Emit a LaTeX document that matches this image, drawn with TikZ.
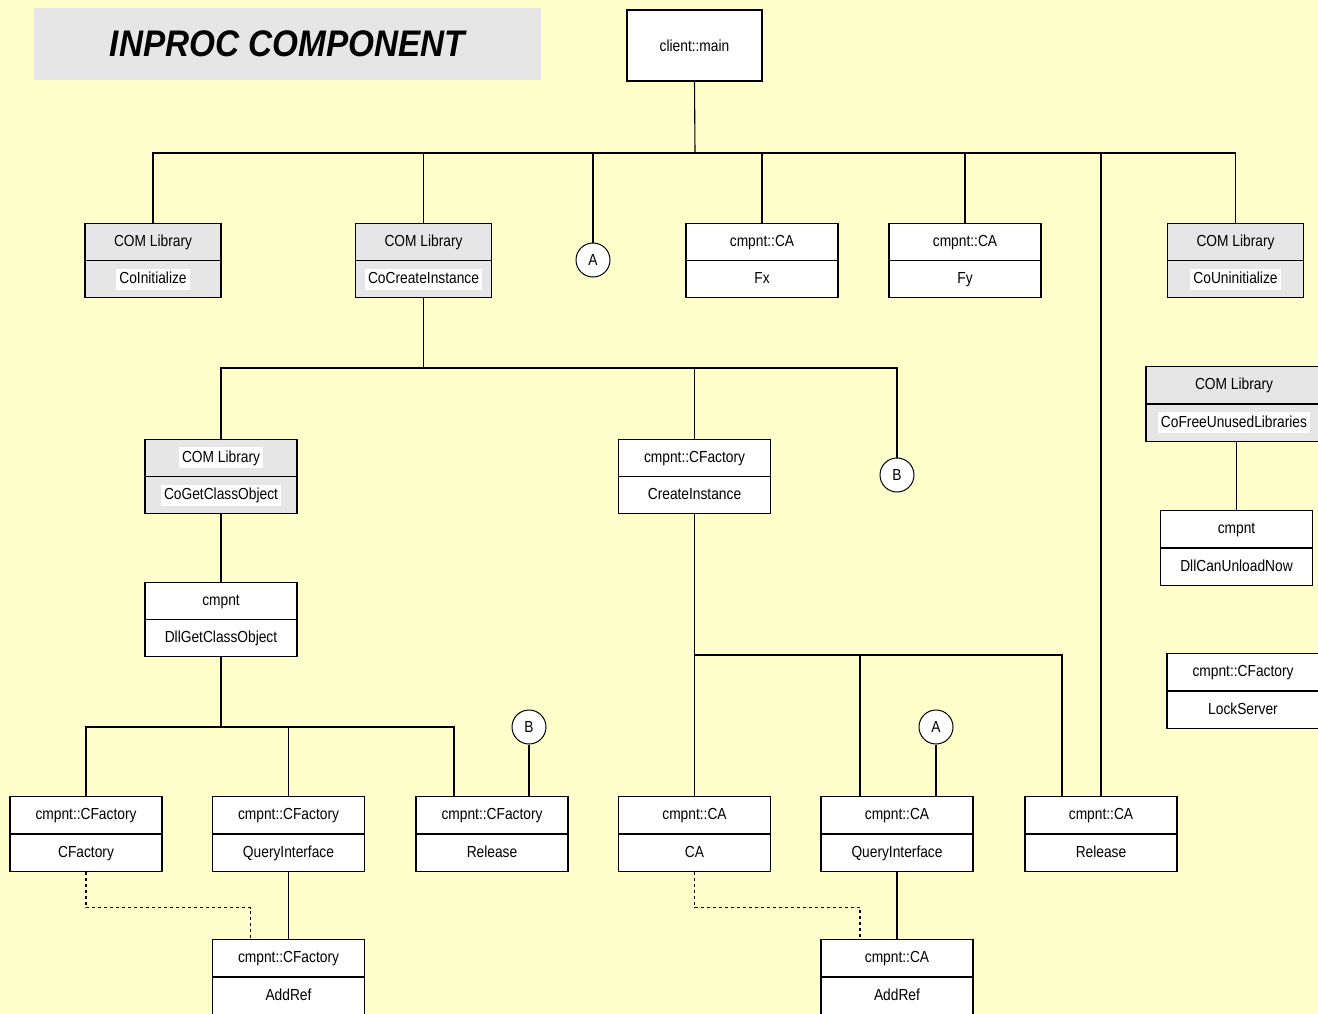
\documentclass[tikz,border=0pt]{standalone}
\usepackage{fontspec}
\setmainfont{Liberation Sans}[FakeStretch=0.86]
\newfontfamily\titlefont{Liberation Sans}[FakeStretch=0.9]
\usepackage{xcolor}
\usetikzlibrary{shapes.multipart}
\definecolor{bgyellow}{RGB}{255,255,204}
\definecolor{boxgray}{RGB}{230,230,230}
\newcommand{\rowstrut}{\rule[-6pt]{0pt}{21pt}}
\newcommand{\hl}[1]{{\setlength{\fboxsep}{3pt}\colorbox{white}{\rule[-3pt]{0pt}{15pt}#1}}}
\tikzset{
  fnbox/.style={rectangle split, rectangle split parts=2, draw, line width=1.1pt,
    fill=white, minimum width=152pt, inner ysep=7.5pt, inner xsep=2pt,
    font=\fontsize{16}{19}\selectfont},
  libbox/.style={fnbox, fill=boxgray, minimum width=136pt},
  conn/.style={circle, draw, line width=1pt, fill=white, minimum size=34pt,
    inner sep=0pt, font=\fontsize{16}{19}\selectfont},
  link/.style={line width=1.1pt},
}

\begin{document}
\begin{tikzpicture}[x=1pt,y=-1pt]
      \useasboundingbox (0,0) rectangle (1318,1014);
      \fill[bgyellow] (0,0) rectangle (1318,1014);
      \node[fill=boxgray, minimum width=507pt, minimum height=72pt,
        font=\fontsize{37}{40}\titlefont\bfseries\itshape] (title) at (287.5,44) {INPROC COMPONENT};
      \node[draw, line width=1.1pt, fill=white, minimum width=135pt, minimum height=71pt,
        font=\fontsize{16}{19}\selectfont] (root) at (694.5,45.5) {client::main};
      % first level
      \node[libbox] (coinit) at (153,260.5) {\rowstrut COM Library\nodepart{two}\rowstrut\hl{CoInitialize}};
      \node[libbox] (cocreate) at (423.5,260.5) {\rowstrut COM Library\nodepart{two}\rowstrut\hl{CoCreateInstance}};
      \node[conn] (a1) at (593,260) {A};
      \node[fnbox] (fx) at (762,260.5) {\rowstrut cmpnt::CA\nodepart{two}\rowstrut Fx};
      \node[fnbox] (fy) at (965,260.5) {\rowstrut cmpnt::CA\nodepart{two}\rowstrut Fy};
      \node[libbox] (couninit) at (1235.5,260.5) {\rowstrut COM Library\nodepart{two}\rowstrut\hl{CoUninitialize}};
      % CoCreateInstance branch
      \node[libbox, minimum width=152pt] (cogetco) at (221,476.5) {\rowstrut\hl{COM Library}\nodepart{two}\rowstrut\hl{CoGetClassObject}};
      \node[fnbox] (createinst) at (694.5,476.5) {\rowstrut cmpnt::CFactory\nodepart{two}\rowstrut CreateInstance};
      \node[conn] (b1) at (897,475) {B};
      \node[fnbox] (dllget) at (221,619.5) {\rowstrut cmpnt\nodepart{two}\rowstrut DllGetClassObject};
      % factory functions
      \node[fnbox] (cfcf) at (86,834) {\rowstrut cmpnt::CFactory\nodepart{two}\rowstrut CFactory};
      \node[fnbox] (cfqi) at (288.5,834) {\rowstrut cmpnt::CFactory\nodepart{two}\rowstrut QueryInterface};
      \node[fnbox] (cfrel) at (492,834) {\rowstrut cmpnt::CFactory\nodepart{two}\rowstrut Release};
      \node[conn] (b2) at (529,727) {B};
      \node[fnbox] (cfadd) at (288.5,977) {\rowstrut cmpnt::CFactory\nodepart{two}\rowstrut AddRef};
      % component functions
      \node[fnbox] (caca) at (694.5,834) {\rowstrut cmpnt::CA\nodepart{two}\rowstrut CA};
      \node[fnbox] (caqi) at (897,834) {\rowstrut cmpnt::CA\nodepart{two}\rowstrut QueryInterface};
      \node[conn] (a2) at (936,727) {A};
      \node[fnbox] (carel) at (1101,834) {\rowstrut cmpnt::CA\nodepart{two}\rowstrut Release};
      \node[fnbox] (caadd) at (897,977) {\rowstrut cmpnt::CA\nodepart{two}\rowstrut AddRef};
      % right column
      \node[libbox, minimum width=176pt] (cofree) at (1234,404) {\rowstrut COM Library\nodepart{two}\rowstrut\hl{CoFreeUnusedLibraries}};
      \node[fnbox] (dllcan) at (1236.5,548) {\rowstrut cmpnt\nodepart{two}\rowstrut DllCanUnloadNow};
      \node[fnbox] (lockserver) at (1243,691) {\rowstrut cmpnt::CFactory\nodepart{two}\rowstrut LockServer};
      % connectors
      \coordinate (bus0) at (695,153);
      \coordinate (bus1) at (423.5,368);
      \coordinate (bus2) at (221,727);
      \coordinate (bus3) at (694.5,655);
      \draw[link] (root.south) -- (bus0);
      \draw[link] (coinit.north) |- (bus0);
      \draw[link] (cocreate.north) |- (bus0);
      \draw[link] (a1.north) |- (bus0);
      \draw[link] (fx.north) |- (bus0);
      \draw[link] (fy.north) |- (bus0);
      \draw[link] (couninit.north) |- (bus0);
      \draw[link] (carel.north) |- (bus0);
      \draw[link] (cocreate.south) -- (bus1);
      \draw[link] (cogetco.north) |- (bus1);
      \draw[link] (createinst.north) |- (bus1);
      \draw[link] (b1.north) |- (bus1);
      \draw[link] (cogetco) -- (dllget);
      \draw[link] (dllget.south) -- (bus2);
      \draw[link] (cfcf.north) |- (bus2);
      \draw[link] (cfqi.north) |- (bus2);
      \draw[link] ([xshift=-38pt]cfrel.north) |- (bus2);
      \draw[link] (b2.south) -- (b2.south |- cfrel.north);
      \draw[link] (cfqi) -- (cfadd);
      \draw[link, dashed] (cfcf.south) -- ++(0,36) -| ([xshift=-38pt]cfadd.north);
      \draw[link] (createinst.south) -- (bus3);
      \draw[link] (caca.north) -- (bus3);
      \draw[link] ([xshift=-37pt]caqi.north) |- (bus3);
      \draw[link] ([xshift=-39pt]carel.north) |- (bus3);
      \draw[link] (a2.south) -- (a2.south |- caqi.north);
      \draw[link] (caqi) -- (caadd);
      \draw[link, dashed] (caca.south) -- ++(0,36) -| ([xshift=-37pt]caadd.north);
      \draw[link] (dllcan.north |- cofree.south) -- (dllcan.north);
\end{tikzpicture}
\end{document}
